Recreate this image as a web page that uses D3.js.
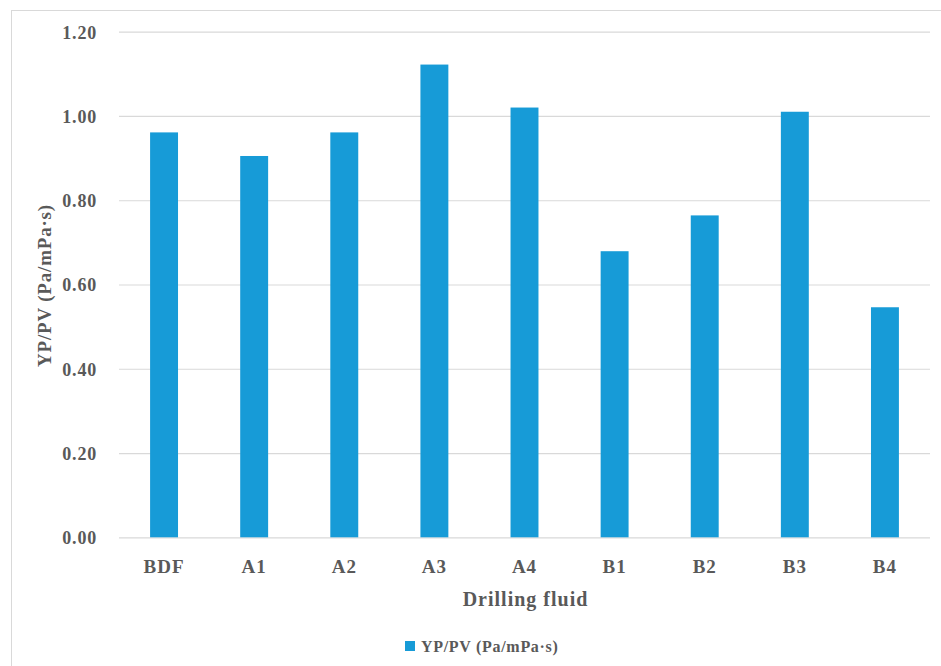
<!DOCTYPE html>
<html>
<head>
<meta charset="utf-8">
<script src="https://cdn.jsdelivr.net/npm/d3@7"></script>
<style>
  html, body { margin: 0; padding: 0; background: #fff; }
  svg { display: block; }
</style>
</head>
<body>
<svg id="chart" width="941" height="666"></svg>
<script>
const categories = ["BDF", "A1", "A2", "A3", "A4", "B1", "B2", "B3", "B4"];
const values = [0.961, 0.905, 0.961, 1.122, 1.020, 0.679, 0.764, 1.010, 0.546];
const yTicks = [0, 0.2, 0.4, 0.6, 0.8, 1.0, 1.2];
const seriesName = "YP/PV (Pa/mPa·s)";
const xTitle = "Drilling fluid";
const yTitle = "YP/PV (Pa/mPa·s)";

const svg = d3.select("#chart");
const font = "'Liberation Serif', 'DejaVu Serif', serif";
const textColor = "#595959";

// outer frame
svg.append("rect").attr("x", 11.5).attr("y", 10.5).attr("width", 940).attr("height", 670)
  .attr("fill", "#fff").attr("stroke", "#d9d9d9").attr("stroke-width", 1);

const margin = { left: 119, right: 930, top: 31.7, bottom: 537.3 };

const x = d3.scaleBand().domain(categories).range([margin.left, margin.right])
  .paddingInner(0.69).paddingOuter(0.345);
const y = d3.scaleLinear().domain([0, 1.2]).range([margin.bottom, margin.top]);

// gridlines
const yAxis = d3.axisLeft(y).tickValues(yTicks).tickFormat(d3.format(".2f"))
  .tickSize(-(margin.right - margin.left)).tickPadding(22);
const gy = svg.append("g").attr("transform", `translate(${margin.left},0)`).call(yAxis);
gy.select(".domain").remove();
gy.selectAll(".tick line").attr("stroke", "#d9d9d9").attr("stroke-width", 1.2);
gy.selectAll(".tick text").attr("fill", textColor).attr("dy", "0.36em")
  .style("font-family", font).style("font-size", "18px").style("font-weight", "bold")
  .style("letter-spacing", "0.8px");

// bars
svg.append("g").selectAll("rect").data(categories).join("rect")
  .attr("x", d => x(d))
  .attr("width", x.bandwidth())
  .attr("y", (d, i) => y(values[i]))
  .attr("height", (d, i) => y(0) - y(values[i]))
  .attr("fill", "#179bd7");

// x axis labels
const xAxis = d3.axisBottom(x).tickSize(0).tickPadding(22);
const gx = svg.append("g").attr("transform", `translate(0,${margin.bottom})`).call(xAxis);
gx.select(".domain").remove();
gx.selectAll(".tick text").attr("fill", textColor)
  .style("font-family", font).style("font-size", "19px").style("font-weight", "bold")
  .style("letter-spacing", "1px");

// axis titles
svg.append("text").attr("x", (margin.left + margin.right) / 2 + 1).attr("y", 606)
  .attr("text-anchor", "middle").attr("fill", textColor)
  .style("font-family", font).style("font-size", "20px").style("font-weight", "bold")
  .style("letter-spacing", "1px")
  .text(xTitle);

svg.append("text").attr("transform", `translate(51,${(margin.top + margin.bottom) / 2 + 1}) rotate(-90)`)
  .attr("text-anchor", "middle").attr("fill", textColor)
  .style("font-family", font).style("font-size", "19px").style("font-weight", "bold")
  .style("letter-spacing", "0.8px")
  .text(yTitle);

// legend
const lg = svg.append("g").attr("transform", "translate(405,641)");
lg.append("rect").attr("x", 0).attr("y", 0).attr("width", 10).attr("height", 10).attr("fill", "#179bd7");
lg.append("text").attr("x", 16).attr("y", 10.5).attr("fill", textColor)
  .style("font-family", font).style("font-size", "16px").style("font-weight", "bold")
  .style("letter-spacing", "0.7px")
  .text(seriesName);
</script>
</body>
</html>
